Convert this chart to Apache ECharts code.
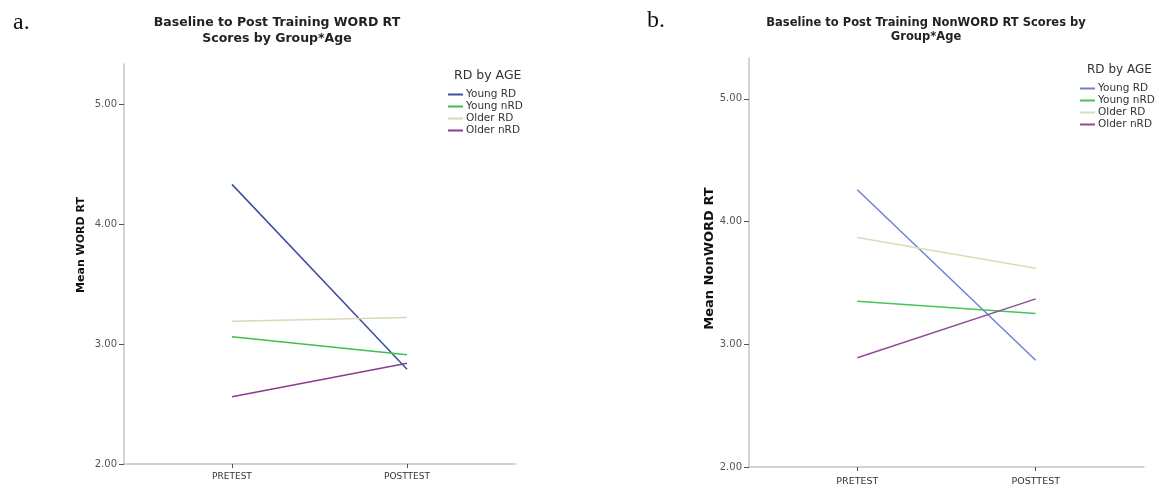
<!DOCTYPE html>
<html>
<head>
<meta charset="utf-8">
<script src="https://cdn.jsdelivr.net/npm/echarts@6/dist/echarts.min.js"></script>
<style>html,body{margin:0;padding:0;background:#fff}#c{width:1159px;height:489px}</style>
</head>
<body>
<div id="c"></div>
<script>
// ---- data ----
const categories = ['PRETEST', 'POSTTEST'];
const groups = ['Young RD', 'Young nRD', 'Older RD', 'Older nRD'];
const yTicks = [2, 3, 4, 5];
// Panel a: WORD RT
const wordYoungRD = [4.33, 2.79];
const wordYoungNRD = [3.06, 2.91];
const wordOlderRD = [3.19, 3.22];
const wordOlderNRD = [2.56, 2.84];
// Panel b: NonWORD RT
const nonYoungRD = [4.26, 2.87];
const nonYoungNRD = [3.35, 3.25];
const nonOlderRD = [3.87, 3.62];
const nonOlderNRD = [2.89, 3.37];

const colorsA = ['#3b4ea6', '#3fbf4f', '#d9d9b5', '#8a3c92'];
const colorsB = ['#6e80d6', '#45c457', '#dcdcb8', '#93489a'];

const wordData = [wordYoungRD, wordYoungNRD, wordOlderRD, wordOlderNRD];
const nonData = [nonYoungRD, nonYoungNRD, nonOlderRD, nonOlderNRD];

const FONT = 'DejaVu Sans';
const catIdx = categories.map((c, i) => i);

function xAxis(gridIndex, pad, fs, margin) {
  return {
    type: 'value', gridIndex, min: -pad, max: 1 + pad,
    axisLine: { show: true, onZero: false, lineStyle: { color: '#c4c4c4', width: 1.5 } },
    axisTick: { show: true, customValues: catIdx, length: 4, lineStyle: { color: '#555' } },
    axisLabel: { customValues: catIdx, formatter: v => categories[Math.round(v)] || '',
      color: '#333', fontFamily: FONT, fontSize: fs, margin },
    splitLine: { show: false }
  };
}
function yAxis(gridIndex, name, nameSize, nameGap, namePad) {
  return {
    type: 'value', gridIndex, min: 2, max: 5.333,
    name, nameLocation: 'middle', nameRotate: 90, nameGap,
    nameTextStyle: { fontFamily: FONT, fontWeight: 'bold', fontSize: nameSize, color: '#111', padding: namePad },
    axisLine: { show: true, onZero: false, lineStyle: { color: '#c4c4c4', width: 1.5 } },
    axisTick: { show: true, customValues: yTicks, length: 5, lineStyle: { color: '#555' } },
    axisLabel: { customValues: yTicks, formatter: v => v.toFixed(2), color: '#555',
      fontFamily: FONT, fontSize: 10, margin: 7 },
    splitLine: { show: false }
  };
}
function legend(left, top, colors, fs) {
  return {
    orient: 'vertical', left, top, itemGap: 1, itemWidth: 15, itemHeight: 2,
    icon: 'rect', selectedMode: false,
    textStyle: { fontFamily: FONT, fontSize: fs, color: '#333', padding: [0, 0, 0, -2] },
    data: groups.map((g, i) => ({ name: g, itemStyle: { color: colors[i] } }))
  };
}
const series = [];
wordData.forEach((arr, i) => series.push({
  name: groups[i], type: 'line', xAxisIndex: 0, yAxisIndex: 0, symbol: 'none',
  lineStyle: { color: colorsA[i], width: 1.5 }, itemStyle: { color: colorsA[i] },
  data: arr.map((v, j) => [catIdx[j], v]), silent: true
}));
nonData.forEach((arr, i) => series.push({
  name: groups[i], type: 'line', xAxisIndex: 1, yAxisIndex: 1, symbol: 'none',
  lineStyle: { color: colorsB[i], width: 1.5 }, itemStyle: { color: colorsB[i] },
  data: arr.map((v, j) => [catIdx[j], v]), silent: true
}));

const chart = echarts.init(document.getElementById('c'), null, { renderer: 'canvas' });
chart.setOption({
  animation: false,
  backgroundColor: '#fff',
  title: [
    { text: 'a.', left: 8, top: 6, textStyle: { fontFamily: 'Liberation Serif', fontSize: 24, fontWeight: 'normal', color: '#111' } },
    { text: 'b.', left: 642, top: 4, textStyle: { fontFamily: 'Liberation Serif', fontSize: 24, fontWeight: 'normal', color: '#111' } },
    { text: 'Baseline to Post Training WORD RT\nScores by Group*Age', left: 272, top: 10, textAlign: 'center',
      textStyle: { fontFamily: FONT, fontSize: 12.5, fontWeight: 'bold', color: '#222', lineHeight: 16 } },
    { text: 'Baseline to Post Training NonWORD RT Scores by\nGroup*Age', left: 921, top: 11, textAlign: 'center',
      textStyle: { fontFamily: FONT, fontSize: 11.5, fontWeight: 'bold', color: '#222', lineHeight: 14 } },
    { text: 'RD by AGE', left: 449, top: 64, textStyle: { fontFamily: FONT, fontSize: 12.5, fontWeight: 'normal', color: '#333' } },
    { text: 'RD by AGE', left: 1082, top: 59, textStyle: { fontFamily: FONT, fontSize: 12, fontWeight: 'normal', color: '#333' } }
  ],
  legend: [legend(443, 84, colorsA, 10.5), legend(1075, 78, colorsB, 10.5)],
  grid: [
    { left: 124, top: 64, width: 391, height: 400, containLabel: false },
    { left: 749, top: 58, width: 395, height: 409, containLabel: false }
  ],
  xAxis: [xAxis(0, 0.617, 9, 8), xAxis(1, 0.607, 9.5, 10)],
  yAxis: [yAxis(0, 'Mean WORD RT', 11, 37, [0, 0, 0, 38]), yAxis(1, 'Mean NonWORD RT', 13, 33, [0, 0, 0, 8])],
  series
});
</script>
</body>
</html>
